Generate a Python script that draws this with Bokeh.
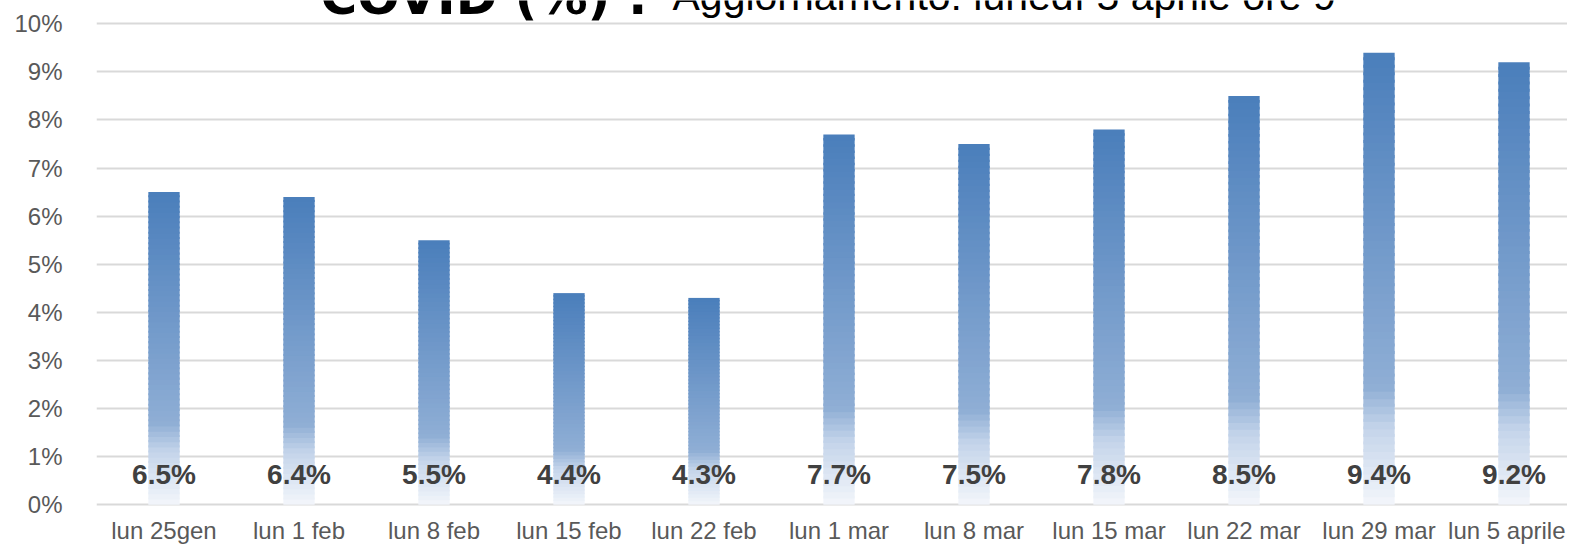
from bokeh.plotting import figure
from bokeh.models import Range1d, FixedTicker, PrintfTickFormatter, ColumnDataSource
from bokeh.core.properties import value
from bokeh.embed import file_html
from bokeh.resources import INLINE

# ---- data ----
categories = ["lun 25gen", "lun 1 feb", "lun 8 feb", "lun 15 feb", "lun 22 feb",
              "lun 1 mar", "lun 8 mar", "lun 15 mar", "lun 22 mar", "lun 29 mar",
              "lun 5 aprile"]
positivity = [6.5, 6.4, 5.5, 4.4, 4.3, 7.7, 7.5, 7.8, 8.5, 9.4, 9.2]
y_ticks = [0, 1, 2, 3, 4, 5, 6, 7, 8, 9, 10]
title_bold = "COVID (%) :"
title_rest = "Aggiornamento: lunedì 5 aprile ore 9"

# ---- layout (pixels of the canvas) ----
W, H = 1567, 544
LEFT = 96
PX_PER_CAT = 135.0
PX_PER_PCT = 48.09
ZERO_Y = 504.2          # canvas y of the 0% line
x_end = (W - LEFT) / PX_PER_CAT
y_end = ZERO_Y / PX_PER_PCT
y_start = -(H - ZERO_Y) / PX_PER_PCT

def y_at(px):
    """data y for a canvas pixel row"""
    return (ZERO_Y - px) / PX_PER_PCT

def x_at(px):
    return (px - LEFT) / PX_PER_CAT

p = figure(width=W, height=H, output_backend="svg", toolbar_location=None,
           x_range=Range1d(0, x_end), y_range=Range1d(y_start, y_end),
           min_border_left=LEFT, min_border_right=0, min_border_top=0,
           min_border_bottom=0)
p.outline_line_color = None
p.background_fill_color = "white"
p.border_fill_color = "white"

p.xgrid.grid_line_color = None
p.ygrid.grid_line_color = "#d9d9d9"
p.ygrid.grid_line_width = 2

# ---- gradient bars ----
stops = [(0.0, (74, 126, 187)), (0.74, (143, 174, 213)),
         (0.83, (196, 212, 234)), (1.0, (243, 246, 251))]

def grad(t):
    for (t0, c0), (t1, c1) in zip(stops[:-1], stops[1:]):
        if t0 <= t <= t1:
            f = (t - t0) / (t1 - t0)
            return "#%02x%02x%02x" % tuple(int(round(a + (b - a) * f)) for a, b in zip(c0, c1))
    return "#%02x%02x%02x" % stops[-1][1]

N = 60
xs, bots, tops, cols = [], [], [], []
for i, v in enumerate(positivity):
    for j in range(N):
        xs.append(i + 0.5)
        bots.append(v * j / N)
        tops.append(v * min(j + 1.4, N) / N)
        cols.append(grad(1 - (j + 0.5) / N))
p.vbar(x=xs, width=0.232, bottom=bots, top=tops, fill_color=cols, line_color=None)

# ---- data labels ----
n = len(positivity)
lab_src = ColumnDataSource(dict(x=[i + 0.5 for i in range(n)],
                                y=[y_at(473.5)] * n,
                                t=["%.1f%%" % v for v in positivity]))
p.text(x="x", y="y", text="t", source=lab_src, text_align="center",
       text_baseline="alphabetic", text_font=value("Liberation Sans"),
       text_font_style="bold", text_font_size="28px", text_color="#404040")

# ---- category labels (drawn as text under the 0% line) ----
cat_style = dict(text_baseline="alphabetic", text_font=value("Liberation Sans"),
                 text_font_size="24px", text_color="#595959")
cat_y = y_at(529.5)
cat_src = ColumnDataSource(dict(x=[i + 0.5 for i in range(len(categories) - 1)],
                                y=[cat_y] * (len(categories) - 1),
                                t=categories[:-1]))
p.text(x="x", y="y", text="t", source=cat_src, text_align="center", **cat_style)
# last label touches the right edge: right-align it to the canvas edge
p.text(x=[x_at(W - 2)], y=[cat_y], text=[categories[-1]], text_align="right", **cat_style)

# ---- title (clipped at the top as in the reference) ----
p.text(x=[x_at(320)], y=[y_at(-3.5)], text=[title_bold],
       text_align="left", text_baseline="alphabetic", text_font=value("DejaVu Sans"),
       text_font_style="bold", text_font_size="50px", text_color="black")
p.text(x=[x_at(672)], y=[y_at(-5)], text=[title_rest],
       text_align="left", text_baseline="alphabetic", text_font=value("Liberation Sans"),
       text_font_size="41px", text_color="black")

# ---- axes ----
p.xaxis.visible = False

p.yaxis.ticker = FixedTicker(ticks=y_ticks)
p.yaxis.formatter = PrintfTickFormatter(format="%d%%")
p.yaxis.axis_line_color = None
p.yaxis.major_tick_line_color = None
p.yaxis.minor_tick_line_color = None
p.yaxis.major_tick_out = 0
p.yaxis.major_tick_in = 0
p.yaxis.major_label_standoff = 34
p.yaxis.major_label_text_font = "Liberation Sans"
p.yaxis.major_label_text_font_size = "24px"
p.yaxis.major_label_text_color = "#595959"

open("out.html", "w").write(file_html(p, INLINE))
